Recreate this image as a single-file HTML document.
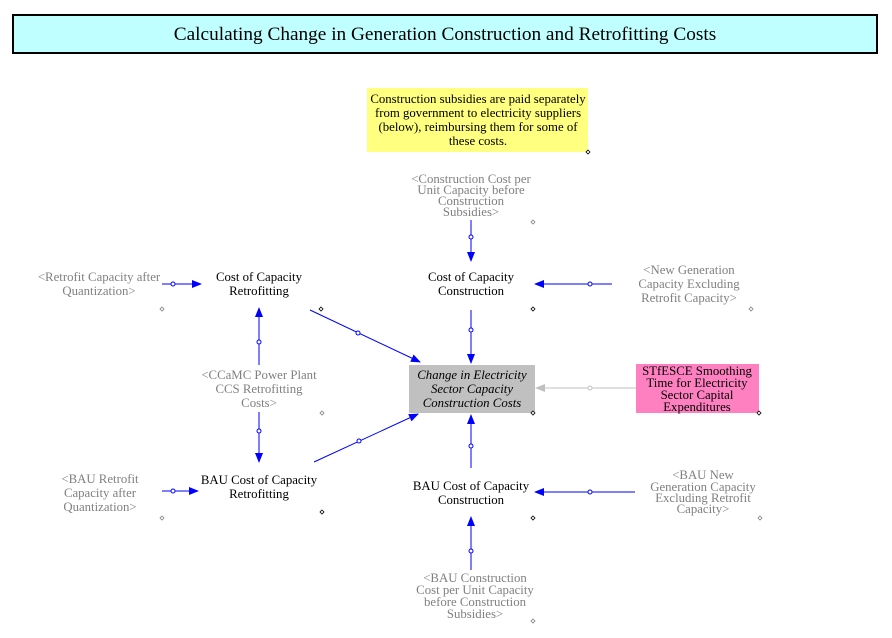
<!DOCTYPE html>
<html><head><meta charset="utf-8"><style>
html,body{margin:0;padding:0;background:#fff;}
svg{display:block;}
svg text{font-family:'Liberation Serif','Times New Roman',serif !important;font-size:12.8px;text-anchor:middle;}
.g{fill:#808080;}
.k{fill:#000;}
</style></head><body>
<svg width="892" height="638" viewBox="0 0 892 638" xmlns="http://www.w3.org/2000/svg" font-family="Liberation Serif, serif">
<defs>
<marker id="ab" markerWidth="10" markerHeight="8" refX="9" refY="4" orient="auto" markerUnits="userSpaceOnUse"><path d="M0,0 L10,4 L0,8 Z" fill="#0000ff"/></marker>
<marker id="ag" markerWidth="10" markerHeight="8" refX="9" refY="4" orient="auto" markerUnits="userSpaceOnUse"><path d="M0,0 L10,4 L0,8 Z" fill="#c0c0c0"/></marker>
</defs>
<rect x="13" y="15" width="864" height="38" fill="#c0ffff" stroke="#000" stroke-width="2"/>
<text x="445" y="40" style="font-size:19.3px">Calculating Change in Generation Construction and Retrofitting Costs</text>

<rect x="367" y="88" width="221" height="64" fill="#ffff80"/>
<g class="k"><text x="478" y="103">Construction subsidies are paid separately</text><text x="478" y="117">from government to electricity suppliers</text><text x="478" y="131">(below), reimbursing them for some of</text><text x="478" y="145">these costs.</text></g>

<g class="g"><text x="471" y="183">&lt;Construction Cost per</text><text x="471" y="194">Unit Capacity before</text><text x="471" y="205">Construction</text><text x="471" y="216">Subsidies&gt;</text></g>
<g class="k"><text x="471" y="281">Cost of Capacity</text><text x="471" y="295">Construction</text></g>
<g class="g"><text x="689" y="274">&lt;New Generation</text><text x="689" y="288">Capacity Excluding</text><text x="689" y="302">Retrofit Capacity&gt;</text></g>
<g class="k"><text x="259" y="281">Cost of Capacity</text><text x="259" y="295">Retrofitting</text></g>
<g class="g"><text x="99" y="281">&lt;Retrofit Capacity after</text><text x="99" y="295">Quantization&gt;</text></g>

<rect x="409" y="365" width="126" height="48" fill="#c0c0c0"/>
<g class="k" style="font-style:italic"><text x="472" y="379">Change in Electricity</text><text x="472" y="393">Sector Capacity</text><text x="472" y="407">Construction Costs</text></g>
<g class="g"><text x="259" y="379">&lt;CCaMC Power Plant</text><text x="259" y="393">CCS Retrofitting</text><text x="259" y="407">Costs&gt;</text></g>
<rect x="636" y="364" width="123" height="49" fill="#ff80c0"/>
<g class="k"><text x="697" y="375">STfESCE Smoothing</text><text x="697" y="387">Time for Electricity</text><text x="697" y="399">Sector Capital</text><text x="697" y="411">Expenditures</text></g>

<g class="k"><text x="259" y="484">BAU Cost of Capacity</text><text x="259" y="498">Retrofitting</text></g>
<g class="g"><text x="100" y="483">&lt;BAU Retrofit</text><text x="100" y="497">Capacity after</text><text x="100" y="511">Quantization&gt;</text></g>
<g class="k"><text x="471" y="490">BAU Cost of Capacity</text><text x="471" y="504">Construction</text></g>
<g class="g"><text x="703" y="479">&lt;BAU New</text><text x="703" y="491">Generation Capacity</text><text x="703" y="502">Excluding Retrofit</text><text x="703" y="513">Capacity&gt;</text></g>
<g class="g"><text x="475" y="582">&lt;BAU Construction</text><text x="475" y="594">Cost per Unit Capacity</text><text x="475" y="606">before Construction</text><text x="475" y="618">Subsidies&gt;</text></g>

<g stroke="#0000ff" stroke-width="1" fill="none" marker-end="url(#ab)">
<line x1="471" y1="220" x2="471" y2="261"/>
<line x1="612" y1="284" x2="535" y2="284"/>
<line x1="162" y1="284" x2="201" y2="284"/>
<line x1="471" y1="310" x2="471" y2="363"/>
<line x1="310" y1="310" x2="420" y2="362"/>
<line x1="259" y1="365" x2="259" y2="308"/>
<line x1="259" y1="412" x2="259" y2="462"/>
<line x1="314" y1="462" x2="418" y2="414"/>
<line x1="162" y1="491" x2="198" y2="491"/>
<line x1="471" y1="468" x2="471" y2="415"/>
<line x1="635" y1="492" x2="535" y2="492"/>
<line x1="471" y1="570" x2="471" y2="517"/>
</g>
<line x1="636" y1="388" x2="536" y2="388" stroke="#c0c0c0" marker-end="url(#ag)"/>
<g fill="#fff" stroke="#0000ff">
<circle cx="471" cy="237" r="2"/><circle cx="590" cy="284" r="2"/><circle cx="173" cy="284" r="2"/>
<circle cx="471" cy="330" r="2"/><circle cx="358" cy="333" r="2"/><circle cx="259" cy="342" r="2"/>
<circle cx="259" cy="431" r="2"/><circle cx="359" cy="441" r="2"/><circle cx="173" cy="491" r="2"/>
<circle cx="471" cy="446" r="2"/><circle cx="590" cy="492" r="2"/><circle cx="471" cy="551" r="2"/>
</g>
<circle cx="590" cy="388" r="2" fill="#fff" stroke="#c0c0c0"/>
<g fill="#fff" stroke="#000" stroke-width="0.8">
<path d="M588,150 l2,2 l-2,2 l-2,-2z"/>
<path d="M533,220 l2,2 l-2,2 l-2,-2z" stroke="#808080"/>
<path d="M533,307 l2,2 l-2,2 l-2,-2z"/>
<path d="M751,307 l2,2 l-2,2 l-2,-2z" stroke="#808080"/>
<path d="M321,307 l2,2 l-2,2 l-2,-2z"/>
<path d="M162,307 l2,2 l-2,2 l-2,-2z" stroke="#808080"/>
<path d="M533,411 l2,2 l-2,2 l-2,-2z"/>
<path d="M322,411 l2,2 l-2,2 l-2,-2z" stroke="#808080"/>
<path d="M759,411 l2,2 l-2,2 l-2,-2z"/>
<path d="M162,516 l2,2 l-2,2 l-2,-2z" stroke="#808080"/>
<path d="M322,510 l2,2 l-2,2 l-2,-2z"/>
<path d="M533,516 l2,2 l-2,2 l-2,-2z"/>
<path d="M760,516 l2,2 l-2,2 l-2,-2z" stroke="#808080"/>
<path d="M533,619 l2,2 l-2,2 l-2,-2z" stroke="#808080"/>
</g>
</svg>
</body></html>
